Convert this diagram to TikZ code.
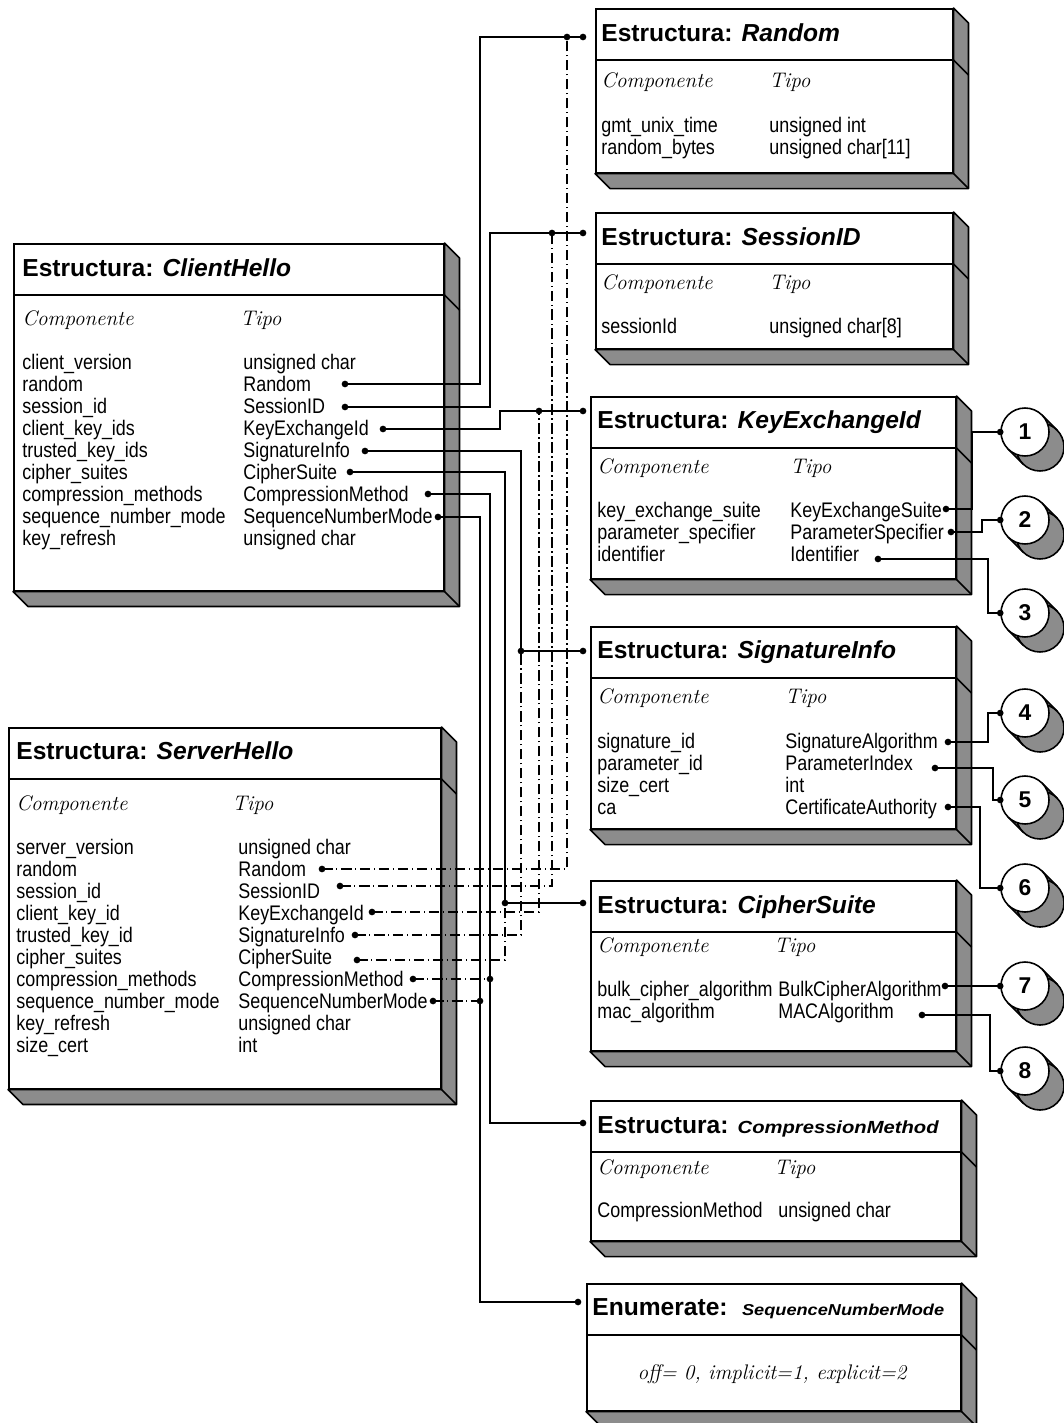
\documentclass[tikz,border=0pt]{standalone}
\usepackage{fontspec}
\usetikzlibrary{calc}
\newfontfamily\bodysans[FakeStretch=0.85]{Liberation Sans}
\newfontfamily\headsans{Liberation Sans}
\newfontfamily\headwide[FakeStretch=1.15]{Liberation Sans}
\newcommand{\dotat}[1]{\fill (#1) circle (1.9pt);}
\newcommand{\slab}[1]{%
  \filldraw[slabface] (#1.north east) -- ++(15,15) -- ($(#1.south east)+(15,15)$)
    -- ($(#1.south west)+(15,15)$) -- (#1.south west) -- (#1.south east) -- cycle;
  \draw[frame] (#1.south east) -- ++(15,15);
  \draw[frame] ($(#1.north west)+(0,52)$) -- ($(#1.north east)+(0,52)$) -- ++(15,15);
}
\newcommand{\heads}[4]{%
  \node[colhd] (#1-cp) at (#2,#4) {Componente};
  \node[colhd] (#1-tp) at (#3,#4) {Tipo};
}
\newcommand{\cyl}[4]{%
  \fill[black!45] (#2+17,#3-17) -- (#2+32,#3-2) -- (#2-2,#3+32) -- (#2-17,#3+17) -- cycle;
  \draw[frame, fill=black!45] (#2+15,#3+15) circle (0.48cm);
  \draw[frame] (#2+17,#3-17) -- (#2+32,#3-2) (#2-17,#3+17) -- (#2-2,#3+32);
  \node[numc] (#1) at (#2,#3) {#4};
}

\begin{document}
\begin{tikzpicture}[
    x=0.02cm, y=-0.02cm,
    frame/.style={line width=0.9pt},
    slabface/.style={draw, line width=0.9pt, fill=black!45, line join=round},
    box/.style={draw, fill=white, line width=0.9pt, anchor=north west, inner sep=0},
    hdr/.style={anchor=west, inner sep=0, text height=10pt, text depth=0pt,
      font=\headsans\bfseries\fontsize{14}{16}\selectfont},
    colhd/.style={anchor=west, inner sep=0, text height=8.2pt, text depth=0pt,
      font=\itshape\fontsize{12}{14}\selectfont},
    cell/.style={anchor=west, inner sep=0, text height=8.6pt, text depth=0pt,
      font=\bodysans\fontsize{12}{14}\selectfont},
    numc/.style={circle, draw, line width=0.9pt, fill=white, minimum size=0.96cm,
      inner sep=0, font=\headsans\bfseries\fontsize{13}{15}\selectfont},
    link/.style={line width=0.8pt},
    srv/.style={line width=0.6pt, dash pattern=on 6pt off 2pt on 0.8pt off 2pt}
]
  \useasboundingbox (0,0) rectangle (1064,1423);

  % structure boxes
  \node[box, minimum width=7.14cm, minimum height=3.28cm] (random) at (595,8) {};
  \slab{random}
  \node[box, minimum width=7.14cm, minimum height=2.72cm] (sessionid) at (595,212) {};
  \slab{sessionid}
  \node[box, minimum width=7.30cm, minimum height=3.64cm] (keyexch) at (590,396) {};
  \slab{keyexch}
  \node[box, minimum width=7.30cm, minimum height=4.04cm] (siginfo) at (590,626) {};
  \slab{siginfo}
  \node[box, minimum width=7.30cm, minimum height=3.40cm] (ciphers) at (590,880) {};
  \slab{ciphers}
  \node[box, minimum width=7.40cm, minimum height=2.80cm] (compmeth) at (590,1100) {};
  \slab{compmeth}
  \node[box, minimum width=7.48cm, minimum height=2.54cm] (seqmode) at (586,1283) {};
  \slab{seqmode}
  \node[box, minimum width=8.60cm, minimum height=6.94cm] (client) at (13,243) {};
  \slab{client}
  \node[box, minimum width=8.64cm, minimum height=7.22cm] (server) at (8,727) {};
  \slab{server}

  \node[hdr] (random-h) at (601,33) {Estructura: \textit{Random}};
  \node[hdr] (sessionid-h) at (601,237) {Estructura: \textit{SessionID}};
  \node[hdr] (keyexch-h) at (597,420) {Estructura: \textit{KeyExchangeId}};
  \node[hdr] (siginfo-h) at (597,650) {Estructura: \textit{SignatureInfo}};
  \node[hdr] (ciphers-h) at (597,905) {Estructura: \textit{CipherSuite}};
  \node[hdr] (compmeth-h) at (597,1125) {Estructura: {\headwide\bfseries\itshape\fontsize{10}{12}\selectfont CompressionMethod}};
  \node[hdr] (seqmode-h) at (592,1307) {Enumerate: \hspace{3pt}{\headwide\bfseries\itshape\fontsize{9}{11}\selectfont SequenceNumberMode}};
  \node[hdr] (client-h) at (22,268) {Estructura: \textit{ClientHello}};
  \node[hdr] (server-h) at (16,751) {Estructura: \textit{ServerHello}};

  \heads{random}{601}{769}{80}
  \heads{sessionid}{601}{769}{282}
  \heads{keyexch}{597}{790}{466}
  \heads{siginfo}{597}{785}{696}
  \heads{ciphers}{597}{774}{945}
  \heads{compmeth}{597}{774}{1167}
  \heads{client}{22}{240}{318}
  \heads{server}{16}{232}{803}

  \foreach \c/\t [count=\i from 0] in {gmt\_unix\_time/unsigned int, random\_bytes/unsigned char[11]} {
    \node[cell] (random-c\i) at (601,125+22*\i) {\c};
    \node[cell] (random-t\i) at (769,125+22*\i) {\t};
  }
  \node[cell] (sessionid-c0) at (601,326) {sessionId};
  \node[cell] (sessionid-t0) at (769,326) {unsigned char[8]};
  \foreach \c/\t [count=\i from 0] in {key\_exchange\_suite/KeyExchangeSuite,
      parameter\_specifier/ParameterSpecifier, identifier/Identifier} {
    \node[cell] (keyexch-c\i) at (597,510+22*\i) {\c};
    \node[cell] (keyexch-t\i) at (790,510+22*\i) {\t};
  }
  \foreach \c/\t [count=\i from 0] in {signature\_id/SignatureAlgorithm,
      parameter\_id/ParameterIndex, size\_cert/int, ca/CertificateAuthority} {
    \node[cell] (siginfo-c\i) at (597,741+22*\i) {\c};
    \node[cell] (siginfo-t\i) at (785,741+22*\i) {\t};
  }
  \foreach \c/\t [count=\i from 0] in {bulk\_cipher\_algorithm/BulkCipherAlgorithm,
      mac\_algorithm/MACAlgorithm} {
    \node[cell] (ciphers-c\i) at (597,989+22*\i) {\c};
    \node[cell] (ciphers-t\i) at (778,989+22*\i) {\t};
  }
  \node[cell] (compmeth-c0) at (597,1210) {CompressionMethod};
  \node[cell] (compmeth-t0) at (778,1210) {unsigned char};
  \node[colhd, anchor=center] (seqmode-v) at (772,1372) {off= 0, implicit=1, explicit=2};

  \foreach \c/\t [count=\i from 0] in {client\_version/unsigned char, random/Random,
      session\_id/SessionID, client\_key\_ids/KeyExchangeId, trusted\_key\_ids/SignatureInfo,
      cipher\_suites/CipherSuite, compression\_methods/CompressionMethod,
      sequence\_number\_mode/SequenceNumberMode, key\_refresh/unsigned char} {
    \node[cell] (client-c\i) at (22,362+22*\i) {\c};
    \node[cell] (client-t\i) at (243,362+22*\i) {\t};
  }
  \foreach \c/\t [count=\i from 0] in {server\_version/unsigned char, random/Random,
      session\_id/SessionID, client\_key\_id/KeyExchangeId, trusted\_key\_id/SignatureInfo,
      cipher\_suites/CipherSuite, compression\_methods/CompressionMethod,
      sequence\_number\_mode/SequenceNumberMode, key\_refresh/unsigned char, size\_cert/int} {
    \node[cell] (server-c\i) at (16,847+22*\i) {\c};
    \node[cell] (server-t\i) at (238,847+22*\i) {\t};
  }

  % numbered references
  \cyl{n1}{1025}{432}{1}
  \cyl{n2}{1025}{520}{2}
  \cyl{n3}{1025}{613}{3}
  \cyl{n4}{1025}{713}{4}
  \cyl{n5}{1025}{800}{5}
  \cyl{n6}{1025}{888}{6}
  \cyl{n7}{1025}{986}{7}
  \cyl{n8}{1025}{1071}{8}

  % connector ends
  \coordinate (rnd-in) at (583,37);   \coordinate (j-rnd) at (567,37);
  \coordinate (sid-in) at (583,233);  \coordinate (j-sid) at (552,233);
  \coordinate (kex-in) at (583,411);  \coordinate (j-kex) at (539,411);
  \coordinate (sig-in) at (583,651);  \coordinate (j-sig) at (521,651);
  \coordinate (cip-in) at (583,903);  \coordinate (j-cip) at (505,903);
  \coordinate (cmp-in) at (583,1123); \coordinate (j-cmp) at (490,979);
  \coordinate (seq-in) at (578,1302); \coordinate (j-seq) at (480,1001);

  \coordinate (ch-rnd) at (345,384);
  \coordinate (ch-sid) at (345,407);
  \coordinate (ch-kex) at (383,429);
  \coordinate (ch-sig) at (365,451);
  \coordinate (ch-cip) at (350,472);
  \coordinate (ch-cmp) at (428,494);
  \coordinate (ch-seq) at (438,517);

  \coordinate (sh-rnd) at (322,869);
  \coordinate (sh-sid) at (340,886);
  \coordinate (sh-kex) at (372,912);
  \coordinate (sh-sig) at (355,935);
  \coordinate (sh-cip) at (357,960);
  \coordinate (sh-cmp) at (413,979);
  \coordinate (sh-seq) at (433,1001);

  \coordinate (kx-1) at (946,509);
  \coordinate (kx-2) at (951,532);
  \coordinate (kx-3) at (878,559);
  \coordinate (si-4) at (948,742);
  \coordinate (si-5) at (935,768);
  \coordinate (si-6) at (948,807);
  \coordinate (cs-7) at (945,986);
  \coordinate (cs-8) at (922,1015);

  % ServerHello links
  \draw[srv] (sh-rnd) -| (j-rnd);
  \draw[srv] (sh-sid) -| (j-sid);
  \draw[srv] (sh-kex) -| (j-kex);
  \draw[srv] (sh-sig) -| (j-sig);
  \draw[srv] (sh-cip) -| (j-cip);
  \draw[srv] (sh-cmp) -- (j-cmp);
  \draw[srv] (sh-seq) -- (j-seq);

  % ClientHello links
  \draw[link] (ch-rnd) -- ++(135,0) |- (rnd-in);
  \draw[link] (ch-sid) -- ++(145,0) |- (sid-in);
  \draw[link] (ch-kex) -- ++(117,0) |- (kex-in);
  \draw[link] (ch-sig) -- ++(156,0) |- (sig-in);
  \draw[link] (ch-cip) -- ++(155,0) |- (cip-in);
  \draw[link] (ch-cmp) -- ++(62,0) |- (cmp-in);
  \draw[link] (ch-seq) -- ++(42,0) |- (seq-in);

  % references to numbered types
  \draw[link] (kx-1) -- ++(26,0) |- (n1.west);
  \draw[link] (kx-2) -- ++(31,0) |- (n2.west);
  \draw[link] (kx-3) -- ++(110,0) |- (n3.west);
  \draw[link] (si-4) -- ++(40,0) |- (n4.west);
  \draw[link] (si-5) -- ++(58,0) |- (n5.west);
  \draw[link] (si-6) -- ++(32,0) |- (n6.west);
  \draw[link] (cs-7) -- (n7.west);
  \draw[link] (cs-8) -- ++(68,0) |- (n8.west);

  \foreach \p in {rnd-in, j-rnd, sid-in, j-sid, kex-in, j-kex, sig-in, j-sig, cip-in, j-cip,
      cmp-in, j-cmp, seq-in, j-seq, ch-rnd, ch-sid, ch-kex, ch-sig, ch-cip, ch-cmp, ch-seq,
      sh-rnd, sh-sid, sh-kex, sh-sig, sh-cip, sh-cmp, sh-seq,
      kx-1, kx-2, kx-3, si-4, si-5, si-6, cs-7, cs-8,
      n1.west, n2.west, n3.west, n4.west, n5.west, n6.west, n7.west, n8.west}
    {\dotat{\p}}
\end{tikzpicture}
\end{document}
